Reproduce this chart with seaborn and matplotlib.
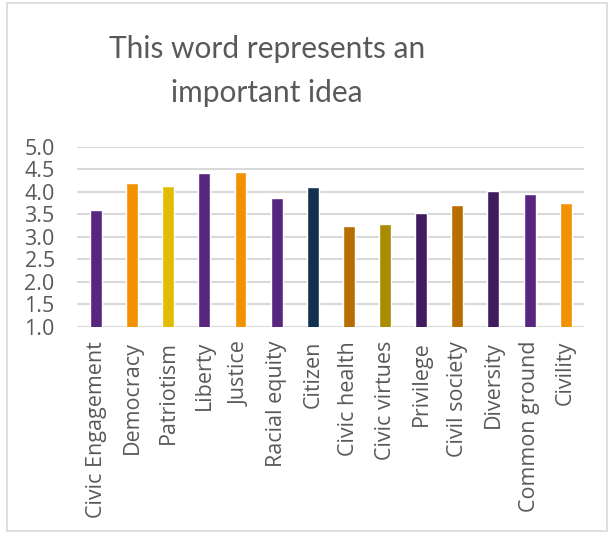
import matplotlib
matplotlib.use("Agg")
import matplotlib.pyplot as plt
import seaborn as sns
import pandas as pd
from matplotlib.patches import Rectangle

categories = ["Civic Engagement", "Democracy", "Patriotism", "Liberty", "Justice",
              "Racial equity", "Citizen", "Civic health", "Civic virtues", "Privilege",
              "Civil society", "Diversity", "Common ground", "Civility"]
values = [3.60, 4.20, 4.13, 4.42, 4.44, 3.86, 4.11, 3.24, 3.29, 3.53, 3.71, 4.02, 3.95, 3.75]
colors = ["#58257f", "#f39200", "#e2bc00", "#58257f", "#f39200", "#58257f", "#12304f",
          "#b86d00", "#a98c00", "#401c5e", "#b86d00", "#401c5e", "#58257f", "#f39200"]
yticks = [1.0, 1.5, 2.0, 2.5, 3.0, 3.5, 4.0, 4.5, 5.0]
title_lines = ["This word represents an", "important idea"]

sns.set_style("white")
plt.rcParams["font.family"] = ["Open Sans", "DejaVu Sans"]

df = pd.DataFrame({"word": categories, "score": values})

fig = plt.figure(figsize=(6.10, 5.33), dpi=100)
ax = fig.add_axes([0.126, 0.3865, 0.831, 0.3383])

sns.barplot(data=df, x="word", y="score", hue="word", palette=colors,
            width=0.33, legend=False, ax=ax, saturation=1)

ax.set_ylim(1.0, 5.0)
ax.set_xlim(-0.53, 13.5)
ax.set_yticks(yticks)
ax.set_yticklabels([f"{t:.1f}" for t in yticks])
ax.yaxis.grid(True, color="#d9d9d9", linewidth=1.5)
ax.set_axisbelow(True)
for s in ax.spines.values():
    s.set_visible(False)
ax.set_xlabel("")
ax.set_ylabel("")
ax.tick_params(axis="both", length=0, colors="#595959", labelsize=15.5)
ax.tick_params(axis="y", pad=16)
ax.tick_params(axis="x", pad=10)
plt.setp(ax.get_xticklabels(), rotation=90)

for line, ybase in zip(title_lines, [58, 102]):
    fig.text(0.438, 1 - ybase / 533, line, ha="center", va="baseline", fontsize=21.5,
             color="#595959", family=["Lato", "DejaVu Sans"])

fig.patches.append(Rectangle((7 / 610, 2 / 533), 600 / 610, 528 / 533,
                             transform=fig.transFigure, fill=False,
                             edgecolor="#d9d9d9", linewidth=1.2))

fig.savefig("out.png", dpi=100)
